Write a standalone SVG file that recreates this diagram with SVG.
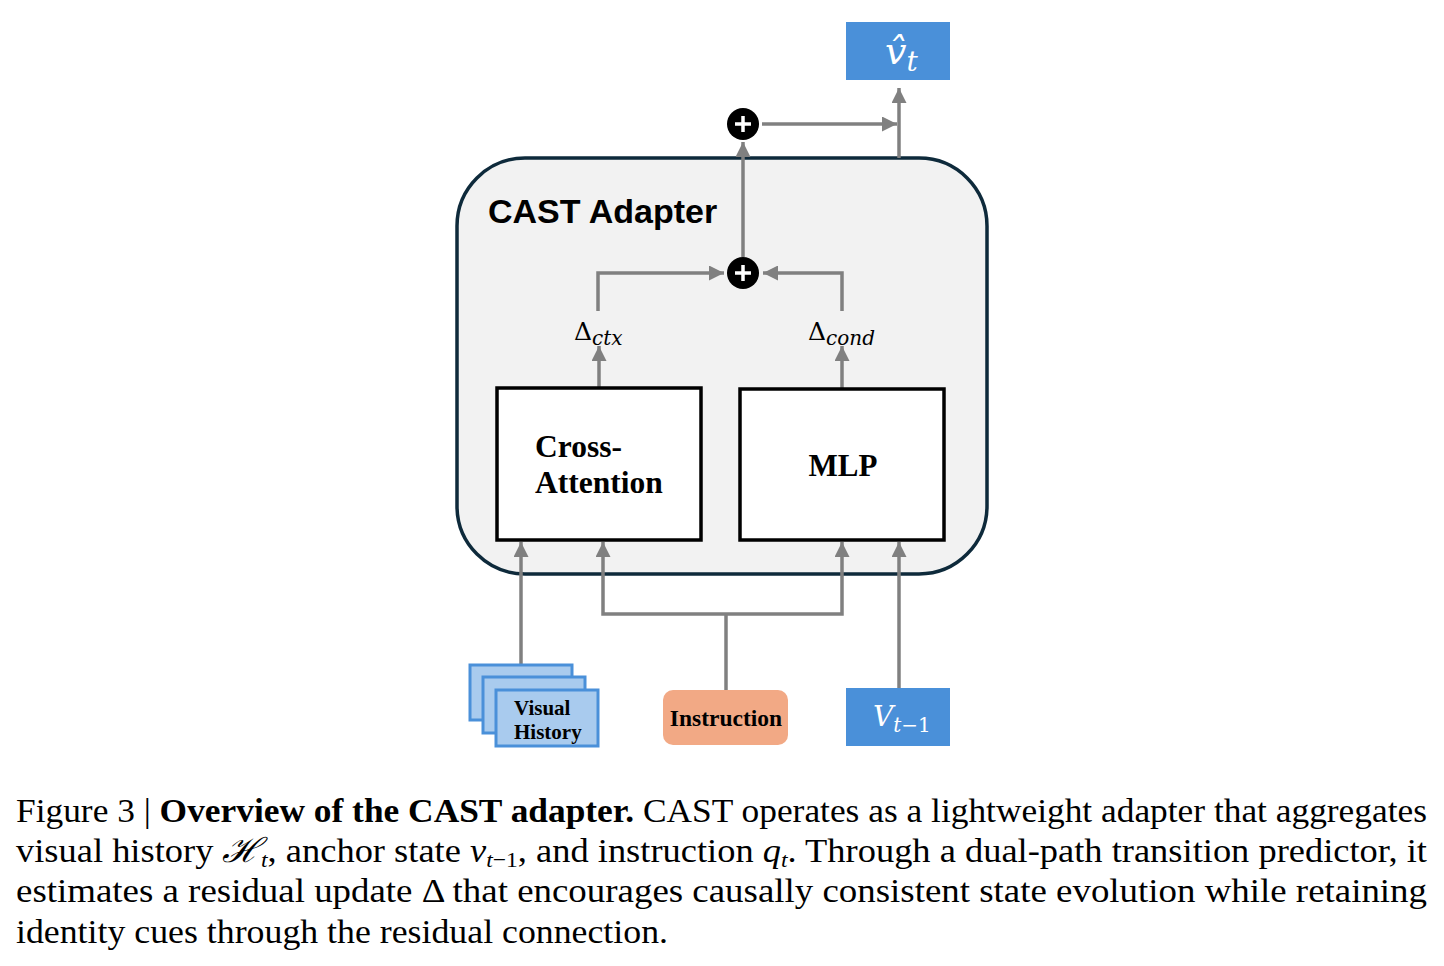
<svg xmlns="http://www.w3.org/2000/svg" width="1444" height="966" viewBox="0 0 1444 966">
<defs>
<marker id="ah" viewBox="0 0 10 10" refX="10" refY="5" markerWidth="16" markerHeight="15" markerUnits="userSpaceOnUse" orient="auto"><path d="M0,0 L10,5 L0,10 z" fill="#808080"/></marker>
<style>
.conn{fill:none;stroke:#808080;stroke-width:3.5}
.arr{marker-end:url(#ah)}
.blk{fill:#fff;stroke:#000;stroke-width:3.5}
.tb{font-family:"Liberation Serif","Times New Roman",serif;font-weight:bold;fill:#000}
.math{font-family:"DejaVu Serif","Liberation Serif",serif;font-style:italic}
.cap{font-family:"Liberation Serif","Times New Roman",serif;font-size:34px;fill:#000}
.vh{fill:#a9cbee;stroke:#4a90d9;stroke-width:3}
.plus{fill:#000}
.pl{stroke:#fff;stroke-width:3.5}
</style>
</defs>
<rect width="1444" height="966" fill="#fff"/>

<g id="adapter">
<rect x="457" y="158" width="530" height="416" rx="68" fill="#f2f2f2" stroke="#0e2a3b" stroke-width="3.5"/>
<text x="488" y="223" font-family="Liberation Sans,Arial,sans-serif" font-weight="bold" font-size="34" fill="#000">CAST Adapter</text>
</g>

<g id="connectors">
<path class="conn arr" d="M762,124 H897"/>
<path class="conn arr" d="M899,158 V88"/>
<path class="conn arr" d="M743,257 V142"/>
<path class="conn arr" d="M598,311 V273 H724"/>
<path class="conn arr" d="M842,311 V273 H763"/>
<path class="conn arr" d="M599,388 V346"/>
<path class="conn arr" d="M842,389 V346"/>
<path class="conn arr" d="M521,665 V542"/>
<path class="conn" d="M726,690 V614"/>
<path class="conn arr" d="M726,614 H603 V542"/>
<path class="conn arr" d="M726,614 H842 V542"/>
<path class="conn arr" d="M899,688 V542"/>
</g>

<g id="output">
<rect x="846" y="22" width="104" height="58" fill="#4a90d9"/>
<text x="885" y="64" class="math" font-size="38" fill="#fff">v&#x302;<tspan font-size="28" dy="7">t</tspan></text>
</g>

<g id="plus-top">
<circle class="plus" cx="743" cy="124" r="16"/>
<path class="pl" d="M735,124 H751 M743,116 V132"/>
</g>
<g id="plus-inner">
<circle class="plus" cx="743" cy="273" r="16"/>
<path class="pl" d="M735,273 H751 M743,265 V281"/>
</g>

<g id="delta-ctx">
<text x="574" y="340" font-family="DejaVu Serif,serif" font-size="25" fill="#000">Δ<tspan class="math" font-size="20" dy="5">ctx</tspan></text>
</g>
<g id="delta-cond">
<text x="808" y="340" font-family="DejaVu Serif,serif" font-size="25" fill="#000">Δ<tspan class="math" font-size="20" dy="5">cond</tspan></text>
</g>

<g id="cross-attention">
<rect class="blk" x="497" y="388" width="204" height="152"/>
<text class="tb" x="535" y="457" font-size="31.5">Cross-</text>
<text class="tb" x="535" y="493" font-size="31.5">Attention</text>
</g>

<g id="mlp">
<rect class="blk" x="740" y="389" width="204" height="151"/>
<text class="tb" x="843" y="476" font-size="31" text-anchor="middle">MLP</text>
</g>

<g id="visual-history">
<rect class="vh" x="470" y="665" width="102" height="55"/>
<rect class="vh" x="483" y="677" width="102" height="56"/>
<rect class="vh" x="496" y="690" width="102" height="56"/>
<text class="tb" x="514" y="715" font-size="21">Visual</text>
<text class="tb" x="514" y="739" font-size="21">History</text>
</g>

<g id="instruction">
<rect x="663" y="690" width="125" height="55" rx="10" fill="#f2a985"/>
<text class="tb" x="726" y="726" font-size="23.5" text-anchor="middle">Instruction</text>
</g>

<g id="v-prev">
<rect x="846" y="688" width="104" height="58" fill="#4a90d9"/>
<text x="873" y="726" class="math" font-size="28" fill="#fff">V<tspan font-size="20" dy="6">t</tspan><tspan font-size="20" font-style="normal">−1</tspan></text>
</g>

<g id="caption">
<text class="cap" x="16" y="822" textLength="1411" lengthAdjust="spacingAndGlyphs">Figure 3 | <tspan font-weight="bold">Overview of the CAST adapter.</tspan> CAST operates as a lightweight adapter that aggregates</text>
<text class="cap" x="16" y="862" textLength="1411" lengthAdjust="spacingAndGlyphs">visual history <tspan font-style="italic">ℋ</tspan><tspan font-style="italic" font-size="22" dy="5">t</tspan><tspan dy="-5">, anchor state </tspan><tspan font-style="italic">v</tspan><tspan font-size="22" dy="5"><tspan font-style="italic">t</tspan>−1</tspan><tspan dy="-5">, and instruction </tspan><tspan font-style="italic">q</tspan><tspan font-style="italic" font-size="22" dy="5">t</tspan><tspan dy="-5">. Through a dual-path transition predictor, it</tspan></text>
<text class="cap" x="16" y="902" textLength="1411" lengthAdjust="spacingAndGlyphs">estimates a residual update Δ that encourages causally consistent state evolution while retaining</text>
<text class="cap" x="16" y="943" textLength="652" lengthAdjust="spacingAndGlyphs">identity cues through the residual connection.</text>
</g>
</svg>
